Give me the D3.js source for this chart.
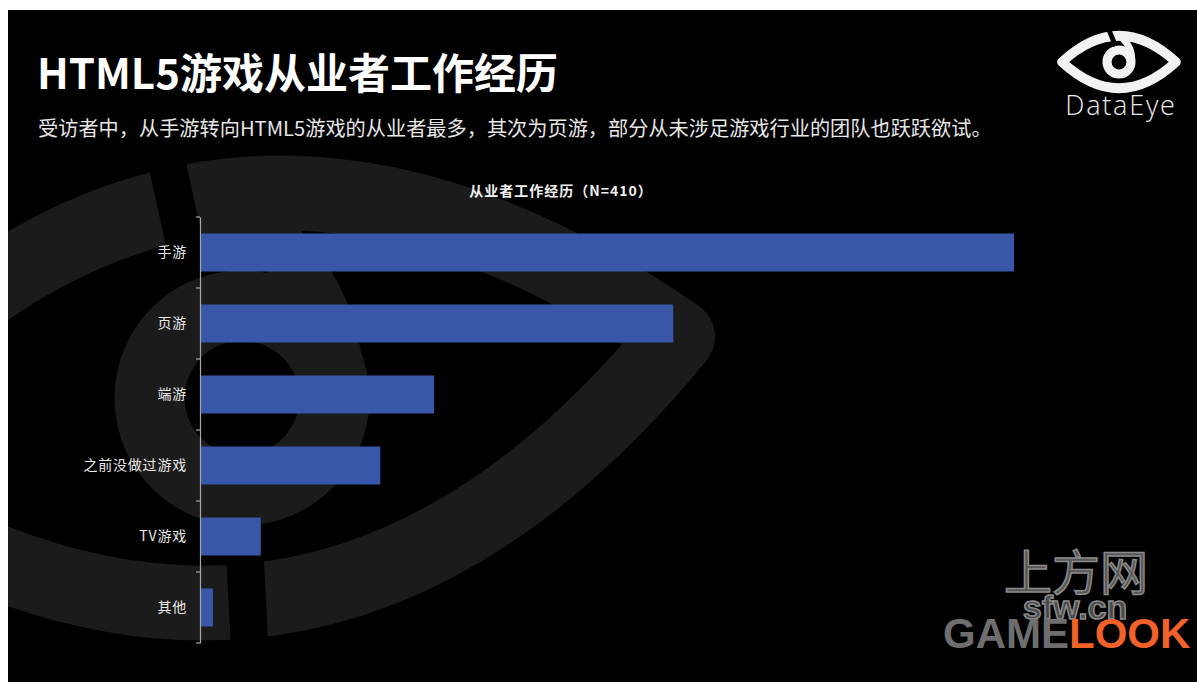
<!DOCTYPE html>
<html>
<head>
<meta charset="utf-8">
<script src="https://cdn.jsdelivr.net/npm/d3@7"></script>
<style>
  body { margin: 0; background: #fff; }
  svg { display: block; }
</style>
</head>
<body>
<svg id="chart" width="1197" height="682"></svg>
<script>
// ---- data ----
const categories = ["手游", "页游", "端游", "之前没做过游戏", "TV游戏", "其他"];
const values = [68.0, 39.5, 19.5, 15.0, 5.0, 1.0];   // % of respondents
const titleText = "HTML5游戏从业者工作经历";
const subtitleText = "受访者中，从手游转向HTML5游戏的从业者最多，其次为页游，部分从未涉足游戏行业的团队也跃跃欲试。";
const chartTitleText = "从业者工作经历（N=410）";
const brandText = "DataEye";

const CJK = "'Noto Sans CJK SC', 'Noto Sans', sans-serif";

const svg = d3.select("#chart");
const W = 1197, H = 682;

// slide background
svg.append("rect").attr("x", 8).attr("y", 10).attr("width", W - 8).attr("height", H - 10).attr("fill", "#000");

const clip = svg.append("defs").append("clipPath").attr("id", "slide");
clip.append("rect").attr("x", 8).attr("y", 10).attr("width", W - 8).attr("height", H - 10);

// eye logo drawn in unit coordinates (corners at x = ±1)
function drawEye(g, color, cut) {
  g.append("path")
    .attr("d", "M-1,0 Q0,-0.92 1,0 Q0,0.92 -1,0 Z")
    .attr("fill", "none").attr("stroke", color)
    .attr("stroke-width", 0.17).attr("stroke-linejoin", "round");
  g.append("circle").attr("r", 0.21)
    .attr("fill", "none").attr("stroke", color).attr("stroke-width", 0.16);
  // pupil stem rising to the upper lid
  g.append("path")
    .attr("d", "M0.22,0 C0.24,-0.2 0.14,-0.36 0.0,-0.46")
    .attr("fill", "none").attr("stroke", color).attr("stroke-width", 0.12).attr("stroke-linecap", "round");
  // diagonal cut through the lids
  g.append("path")
    .attr("d", cut)
    .attr("fill", "none").attr("stroke", "#000").attr("stroke-width", 0.085);
}

// large faint mark behind the plot
const bgMark = svg.append("g").attr("clip-path", "url(#slide)")
  .append("g").attr("transform", "translate(242,398) rotate(-8) scale(440)");
drawEye(bgMark, "#1b1b1b", "M-0.1,-0.62 L-0.075,-0.3 M-0.04,0.32 L-0.065,0.6");

// brand mark, top right
const brand = svg.append("g").attr("transform", "translate(1119,62) scale(57)");
drawEye(brand, "#f2f2f2", "M-0.2,-0.62 L-0.06,-0.28");
svg.append("text").attr("x", 1121).attr("y", 115).attr("text-anchor", "middle")
  .attr("font-family", "'Open Sans', 'Noto Sans', sans-serif").attr("font-weight", 300)
  .attr("font-size", 27).attr("letter-spacing", 1.8).attr("fill", "#ececec").text(brandText);

// headings
svg.append("text").attr("x", 37).attr("y", 89)
  .attr("font-family", CJK).attr("font-weight", 700).attr("font-size", 42)
  .attr("fill", "#fff").text(titleText);
svg.append("text").attr("x", 38).attr("y", 136)
  .attr("font-family", CJK).attr("font-size", 20.2)
  .attr("fill", "#e6e6e6").text(subtitleText);
svg.append("text").attr("x", 561).attr("y", 196).attr("text-anchor", "middle")
  .attr("font-family", CJK).attr("font-weight", 700).attr("font-size", 14)
  .attr("letter-spacing", 1).attr("fill", "#f0f0f0").text(chartTitleText);

// ---- scales ----
const y = d3.scaleBand().domain(categories).range([217, 643])
  .paddingInner(0.465).paddingOuter(0.2325);
const x = d3.scaleLinear().domain([0, d3.max(values)]).range([201, 1014]);

// bars
svg.append("g").selectAll("rect").data(categories).join("rect")
  .attr("x", x(0))
  .attr("y", d => y(d))
  .attr("width", (d, i) => x(values[i]) - x(0))
  .attr("height", y.bandwidth())
  .attr("fill", "#3957a8");

// category axis: labels centred on bands, ticks on band boundaries
const axisG = svg.append("g").attr("transform", "translate(200,0)")
  .call(d3.axisLeft(y).tickSize(0).tickPadding(13));
axisG.select(".domain").attr("stroke", "#a8a8a8").attr("stroke-width", 1.2);
axisG.selectAll(".tick text")
  .attr("font-family", CJK).attr("font-size", 14).attr("letter-spacing", 0.8)
  .attr("fill", "#e8e8e8");

const edges = categories.map(d => y(d) - y.step() * y.paddingInner() / 2).concat([y.range()[1]]);
svg.append("g").selectAll("line").data(edges).join("line")
  .attr("x1", 196).attr("x2", 200)
  .attr("y1", d => d).attr("y2", d => d)
  .attr("stroke", "#a8a8a8").attr("stroke-width", 1.2);

// publisher marks, bottom right
svg.append("text").attr("x", 1076).attr("y", 590).attr("text-anchor", "middle")
  .attr("font-family", CJK).attr("font-size", 48)
  .attr("fill", "#555").attr("stroke", "#8a8a8a").attr("stroke-width", 1.5)
  .text("上方网");
svg.append("text").attr("x", 1075).attr("y", 619).attr("text-anchor", "middle")
  .attr("font-family", "'Liberation Sans', Arial, sans-serif").attr("font-weight", 700).attr("font-size", 34)
  .attr("fill", "#4a4a4a").attr("stroke", "#8a8a8a").attr("stroke-width", 1.5)
  .text("sfw.cn");
const gl = svg.append("text").attr("x", 943).attr("y", 648)
  .attr("font-family", "'Liberation Sans', Arial, sans-serif").attr("font-weight", 700).attr("font-size", 42);
gl.append("tspan").attr("fill", "#6e6e6e").text("GAME");
gl.append("tspan").attr("fill", "#f0622a").text("LOOK");
</script>
</body>
</html>
